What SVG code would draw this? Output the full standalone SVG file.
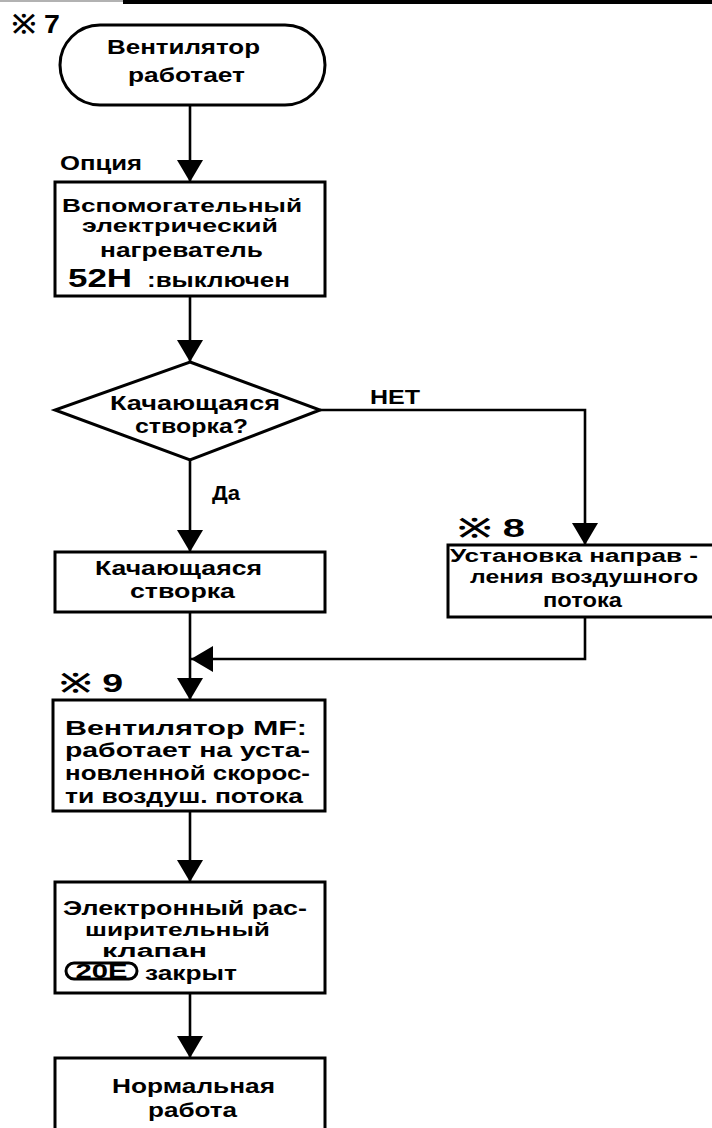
<svg xmlns="http://www.w3.org/2000/svg" width="712" height="1128" viewBox="0 0 712 1128">
<style>
.box{fill:#fff;stroke:#000;stroke-width:3}
.ln{fill:none;stroke:#000;stroke-width:2.6}
text{font-family:"Liberation Sans","Arial",sans-serif;font-weight:bold;fill:#000;font-size:21px}
.big{font-size:26px}
.sm{font-size:17.5px}
.c{text-anchor:middle}
</style>
<defs>
<marker id="arr" viewBox="0 0 22 26" refX="22" refY="13" markerWidth="22" markerHeight="26" markerUnits="userSpaceOnUse" orient="auto">
<path d="M0,0 L22,13 L0,26 z" fill="#000"/>
</marker>
</defs>
<rect width="712" height="1128" fill="#fff"/>
<line x1="0" y1="1" x2="123" y2="1" stroke="#999" stroke-width="1.5"/>
<line x1="123" y1="2" x2="712" y2="2" stroke="#000" stroke-width="4"/>

<g id="connectors">
<path class="ln" d="M190,105 V182" marker-end="url(#arr)"/>
<path class="ln" d="M190,296 V362" marker-end="url(#arr)"/>
<path class="ln" d="M320,410 H585 V545" marker-end="url(#arr)"/>
<path class="ln" d="M190,460 V552" marker-end="url(#arr)"/>
<path class="ln" d="M190,612 V700" marker-end="url(#arr)"/>
<path class="ln" d="M585,617 V659 H191" marker-end="url(#arr)"/>
<path class="ln" d="M190,812 V882" marker-end="url(#arr)"/>
<path class="ln" d="M190,993 V1058" marker-end="url(#arr)"/>
<text x="60" y="170" textLength="82" lengthAdjust="spacingAndGlyphs">Опция</text>
<text x="370" y="404" textLength="50" lengthAdjust="spacingAndGlyphs" font-size="23">НЕТ</text>
<text x="212" y="500" textLength="28" lengthAdjust="spacingAndGlyphs">Да</text>
</g>

<g id="start">
<rect class="box" x="60" y="25" width="265" height="80" rx="40" ry="40"/>
<text x="12" y="33" class="big" textLength="48" lengthAdjust="spacingAndGlyphs">※ 7</text>
<text x="107" y="54" textLength="153" lengthAdjust="spacingAndGlyphs" font-size="23">Вентилятор</text>
<text x="128" y="82" textLength="117" lengthAdjust="spacingAndGlyphs" font-size="23">работает</text>
</g>

<g id="heater">
<rect class="box" x="55" y="182" width="270" height="114"/>
<text x="62" y="212" textLength="240" lengthAdjust="spacingAndGlyphs" class="sm">Вспомогательный</text>
<text x="82" y="232" textLength="196" lengthAdjust="spacingAndGlyphs" class="sm">электрический</text>
<text x="100" y="257" textLength="163" lengthAdjust="spacingAndGlyphs">нагреватель</text>
<text x="68" y="287" class="big" textLength="64" lengthAdjust="spacingAndGlyphs">52H</text>
<text x="147" y="287" textLength="143" lengthAdjust="spacingAndGlyphs">:выключен</text>
</g>

<g id="decision">
<polygon class="box" points="190,362 320,410 190,460 55,410"/>
<text x="110" y="410" textLength="170" lengthAdjust="spacingAndGlyphs">Качающаяся</text>
<text x="135" y="433" textLength="113" lengthAdjust="spacingAndGlyphs">створка?</text>
</g>

<g id="airdir">
<rect class="box" x="448" y="545" width="280" height="72"/>
<text x="458" y="537" class="big" textLength="67" lengthAdjust="spacingAndGlyphs">※ 8</text>
<text x="450" y="562" textLength="248" lengthAdjust="spacingAndGlyphs" class="sm">Установка направ -</text>
<text x="470" y="583" textLength="228" lengthAdjust="spacingAndGlyphs" class="sm">ления воздушного</text>
<text x="543" y="607" textLength="79" lengthAdjust="spacingAndGlyphs">потока</text>
</g>

<g id="swing">
<rect class="box" x="55" y="552" width="270" height="60"/>
<text x="95" y="575" textLength="167" lengthAdjust="spacingAndGlyphs">Качающаяся</text>
<text x="130" y="598" textLength="105" lengthAdjust="spacingAndGlyphs">створка</text>
</g>

<g id="fan">
<rect class="box" x="53" y="700" width="272" height="111"/>
<text x="60" y="692" class="big" textLength="63" lengthAdjust="spacingAndGlyphs">※ 9</text>
<text x="65" y="735" textLength="242" lengthAdjust="spacingAndGlyphs">Вентилятор MF:</text>
<text x="65" y="757" textLength="245" lengthAdjust="spacingAndGlyphs">работает на уста-</text>
<text x="65" y="780" textLength="245" lengthAdjust="spacingAndGlyphs">новленной скорос-</text>
<text x="65" y="803" textLength="238" lengthAdjust="spacingAndGlyphs">ти воздуш. потока</text>
</g>

<g id="valve">
<rect class="box" x="55" y="882" width="270" height="111"/>
<text x="63" y="915" textLength="244" lengthAdjust="spacingAndGlyphs">Электронный рас-</text>
<text x="85" y="936" textLength="185" lengthAdjust="spacingAndGlyphs" class="sm">ширительный</text>
<text x="102" y="957" textLength="105" lengthAdjust="spacingAndGlyphs" class="sm">клапан</text>
<rect x="66" y="963" width="71" height="16" rx="8" ry="8" fill="none" stroke="#000" stroke-width="3"/>
<text x="101.5" y="978" class="c" font-size="19" textLength="52" lengthAdjust="spacingAndGlyphs">20E</text>
<text x="145" y="980" textLength="92" lengthAdjust="spacingAndGlyphs">закрыт</text>
</g>

<g id="normal">
<rect class="box" x="55" y="1058" width="270" height="90"/>
<text x="112" y="1093" textLength="163" lengthAdjust="spacingAndGlyphs">Нормальная</text>
<text x="148" y="1117" textLength="89" lengthAdjust="spacingAndGlyphs">работа</text>
</g>
</svg>
